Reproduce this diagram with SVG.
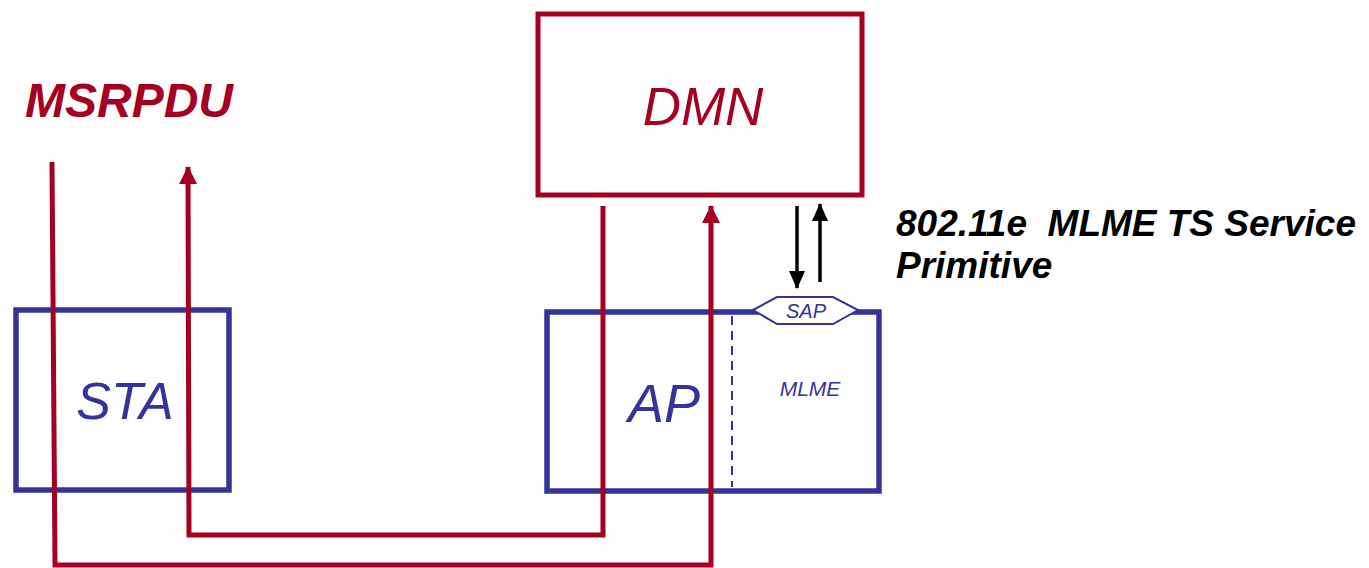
<svg xmlns="http://www.w3.org/2000/svg" width="1369" height="568" viewBox="0 0 1369 568">
<style>
.red{fill:none;stroke:#A50021;stroke-width:5}
.blue{fill:none;stroke:#333399;stroke-width:5.5}
.t{font-family:"Liberation Sans",Arial,sans-serif;font-style:italic}
</style>
<defs>
<marker id="ra" viewBox="0 0 18 18" refX="17" refY="9" markerWidth="18" markerHeight="18" markerUnits="userSpaceOnUse" orient="auto"><path d="M0,0 L18,9 L0,18 z" fill="#A50021"/></marker>
<marker id="ba" viewBox="0 0 18 16" refX="17" refY="8" markerWidth="18" markerHeight="16" markerUnits="userSpaceOnUse" orient="auto"><path d="M0,0 L18,8 L0,16 z" fill="#000"/></marker>
</defs>
<rect width="1369" height="568" fill="#fff"/>
<g id="dmn">
<rect class="red" x="538" y="14" width="324" height="181"/>
<text class="t" x="703" y="125" font-size="53" fill="#A50021" text-anchor="middle">DMN</text>
</g>
<g id="sta">
<rect class="blue" x="16" y="310" width="213" height="180"/>
<text class="t" x="125" y="419" font-size="52" fill="#333399" text-anchor="middle">STA</text>
</g>
<g id="ap">
<rect class="blue" x="547" y="312" width="332" height="179"/>
<line x1="732" y1="316" x2="732" y2="487" stroke="#333399" stroke-width="2" stroke-dasharray="9,6"/>
<text class="t" x="664" y="422" font-size="54" fill="#333399" text-anchor="middle">AP</text>
<text class="t" x="810" y="396" font-size="21" fill="#333399" text-anchor="middle">MLME</text>
</g>
<g id="sap">
<polygon points="753,310 777,297 833,297 858,310 833,324 777,324" fill="#fff" stroke="#333399" stroke-width="2"/>
<text class="t" x="806" y="318" font-size="20" fill="#333399" text-anchor="middle">SAP</text>
</g>
<g id="labels">
<text class="t" x="25" y="117" font-size="48" font-weight="bold" fill="#A50021">MSRPDU</text>
<text class="t" x="896" y="236" font-size="37" font-weight="bold" fill="#000" xml:space="preserve">802.11e  MLME TS Service</text>
<text class="t" x="896" y="278" font-size="37" font-weight="bold" fill="#000">Primitive</text>
</g>
<g id="connectors">
<polyline class="red" points="52,162 55,565 711,565 711,206" marker-end="url(#ra)"/>
<polyline class="red" points="603,206 603,535 189,535 188,167" marker-end="url(#ra)"/>
<line x1="797" y1="206" x2="797" y2="288" stroke="#000" stroke-width="3.5" marker-end="url(#ba)"/>
<line x1="820" y1="282" x2="820" y2="204" stroke="#000" stroke-width="3.5" marker-end="url(#ba)"/>
</g>
</svg>
